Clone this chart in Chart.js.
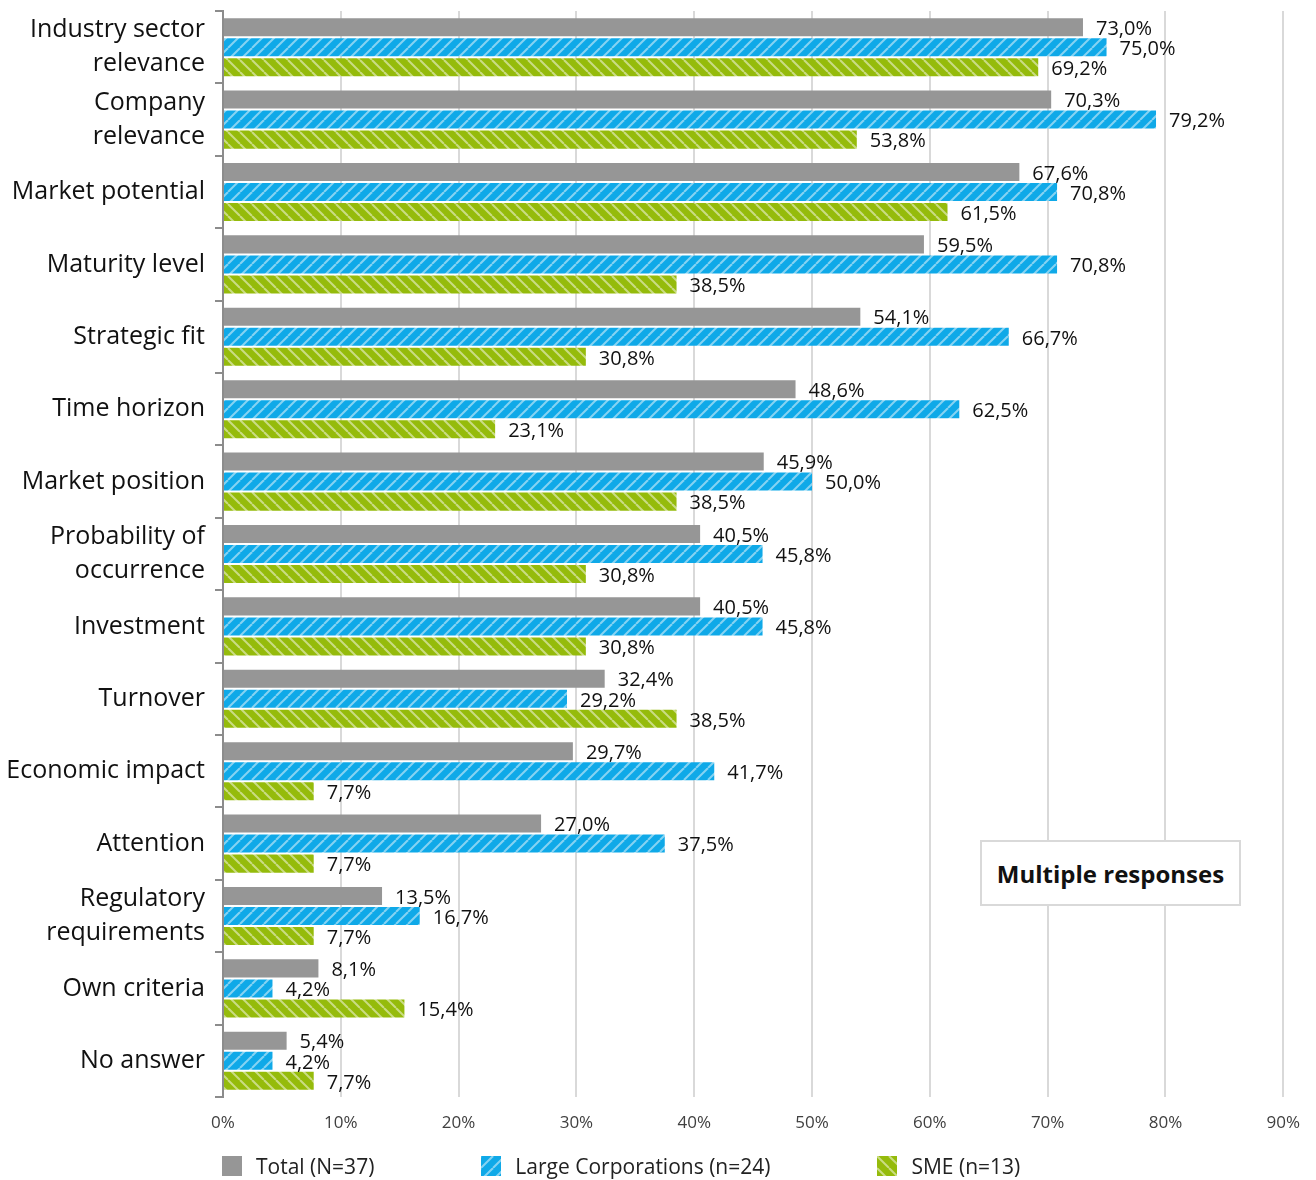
<!DOCTYPE html>
<html lang="en">
<head>
<meta charset="UTF-8" />
<title>Criteria chart</title>
<script src="https://cdn.jsdelivr.net/npm/chart.js"></script>
<style>
  body { margin: 0; background: #fff; font-family: "Open Sans", sans-serif; }
  .wrap { position: relative; width: 1316px; height: 1180px; }
  #grafico { position: absolute; left: 0; top: 0; }
  .nota {
    position: absolute; left: 980px; top: 840px; width: 257px; height: 62px;
    border: 2px solid #d9d9d9; background: #fff;
    display: flex; align-items: center; justify-content: center;
    font-weight: bold; font-size: 24px; color: #111;
  }
  .legenda { position: absolute; left: 222px; top: 1152px; display: flex; gap: 107px; }
  .legenda div { display: flex; align-items: center; font-size: 21px; color: #222; }
  .legenda canvas { margin-right: 14px; }
</style>
</head>
<body>
<div class="wrap">
  <canvas id="grafico" width="1316" height="1180"></canvas>
  <div class="nota">Multiple responses</div>
  <div class="legenda" id="legenda"></div>
</div>

<script>
  var categorias = [
    ["Industry sector", "relevance"],
    ["Company", "relevance"],
    "Market potential",
    "Maturity level",
    "Strategic fit",
    "Time horizon",
    "Market position",
    ["Probability of", "occurrence"],
    "Investment",
    "Turnover",
    "Economic impact",
    "Attention",
    ["Regulatory", "requirements"],
    "Own criteria",
    "No answer"
  ];
  var total = [73.0, 70.3, 67.6, 59.5, 54.1, 48.6, 45.9, 40.5, 40.5, 32.4, 29.7, 27.0, 13.5, 8.1, 5.4];
  var grandes = [75.0, 79.2, 70.8, 70.8, 66.7, 62.5, 50.0, 45.8, 45.8, 29.2, 41.7, 37.5, 16.7, 4.2, 4.2];
  var pme = [69.2, 53.8, 61.5, 38.5, 30.8, 23.1, 38.5, 30.8, 30.8, 38.5, 7.7, 7.7, 7.7, 15.4, 7.7];
  var nomes = ["Total (N=37)", "Large Corporations (n=24)", "SME (n=13)"];

  // padrao de listras diagonais
  function listras(fundo, linha, sobe) {
    var c = document.createElement("canvas");
    c.width = 12; c.height = 12;
    var g = c.getContext("2d");
    g.fillStyle = fundo;
    g.fillRect(0, 0, 12, 12);
    g.strokeStyle = linha;
    g.lineWidth = 2;
    for (var k = -12; k <= 12; k += 12) {
      g.beginPath();
      if (sobe) { g.moveTo(k, 12); g.lineTo(k + 12, 0); }
      else { g.moveTo(k, 0); g.lineTo(k + 12, 12); }
      g.stroke();
    }
    return g.createPattern(c, "repeat");
  }

  var cinza = "#969696";
  var azul = listras("#0fa9e8", "#86d3f2", true);
  var verde = listras("#95bb0b", "#cadc84", false);
  var cores = [cinza, azul, verde];

  var rotulos = {
    id: "rotulos",
    afterDatasetsDraw: function (chart) {
      var ctx = chart.ctx;
      ctx.save();
      ctx.font = "20px 'Open Sans'";
      ctx.fillStyle = "#111";
      ctx.textAlign = "left";
      ctx.textBaseline = "middle";
      chart.data.datasets.forEach(function (ds, i) {
        chart.getDatasetMeta(i).data.forEach(function (bar, j) {
          var txt = ds.data[j].toFixed(1).replace(".", ",") + "%";
          ctx.fillText(txt, bar.x + 13, bar.y + 2);
        });
      });
      ctx.restore();
    }
  };

  new Chart(grafico, {
    type: "bar",
    data: {
      labels: categorias,
      datasets: [
        { label: nomes[0], data: total, backgroundColor: cores[0] },
        { label: nomes[1], data: grandes, backgroundColor: cores[1] },
        { label: nomes[2], data: pme, backgroundColor: cores[2] }
      ]
    },
    options: {
      indexAxis: "y",
      responsive: false,
      animation: false,
      categoryPercentage: 0.83,
      barPercentage: 0.9,
      layout: { padding: { top: 11, right: 24, bottom: 40, left: 0 } },
      plugins: { legend: { display: false }, tooltip: { enabled: false } },
      scales: {
        x: {
          min: 0,
          max: 90,
          afterFit: function (s) { s.height = 43; },
          ticks: {
            stepSize: 10,
            padding: 16,
            color: "#404040",
            font: { family: "Open Sans", size: 17 },
            callback: function (v) { return v + "%"; }
          },
          grid: { color: "#d9d9d9", lineWidth: 2, drawTicks: false },
          border: { display: false }
        },
        y: {
          afterFit: function (s) { s.width = 223; s.paddingTop = 0; s.paddingBottom = 0; },
          ticks: {
            autoSkip: false,
            color: "#111",
            padding: 10,
            font: { family: "Open Sans", size: 25, lineHeight: 1.36 }
          },
          grid: { drawOnChartArea: false, drawTicks: true, tickLength: 8, color: "#8c8c8c", lineWidth: 2 },
          border: { display: true, color: "#8c8c8c", width: 2 }
        }
      }
    },
    plugins: [rotulos]
  });

  // legenda
  nomes.forEach(function (n, i) {
    var item = document.createElement("div");
    var q = document.createElement("canvas");
    q.width = 20; q.height = 20;
    var g = q.getContext("2d");
    g.fillStyle = cores[i];
    g.fillRect(0, 0, 20, 20);
    item.appendChild(q);
    item.appendChild(document.createTextNode(n));
    legenda.appendChild(item);
  });
</script>
</body>
</html>
